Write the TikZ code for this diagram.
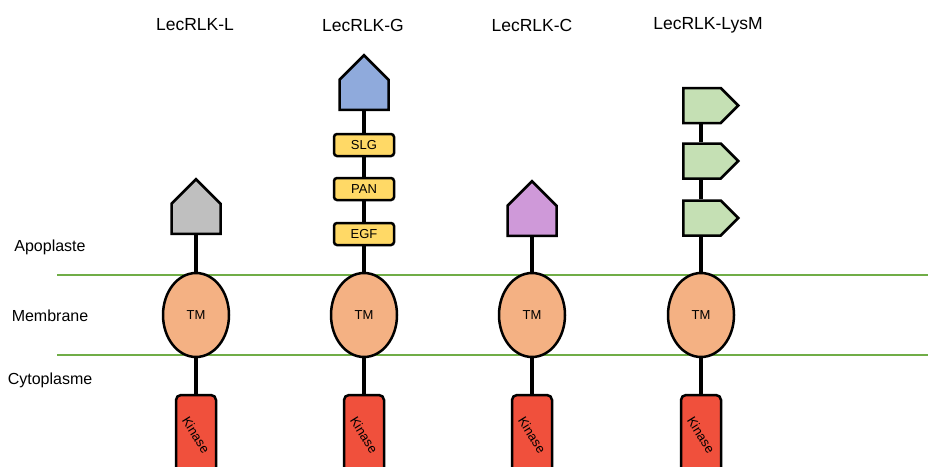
\documentclass[tikz,border=0pt]{standalone}
\usepackage{fontspec}
\setmainfont{Liberation Sans}
\usetikzlibrary{shapes.symbols,shapes.geometric}

\definecolor{lecgrey}{HTML}{BFBFBF}
\definecolor{lecblue}{HTML}{8FAADC}
\definecolor{lecpurple}{HTML}{CF99D9}
\definecolor{lecgreen}{HTML}{C5E0B4}
\definecolor{lecyellow}{HTML}{FFD966}
\definecolor{tmorange}{HTML}{F4B183}
\definecolor{kinred}{HTML}{F0503C}
\definecolor{membcol}{HTML}{70AD47}

\begin{document}
\begin{tikzpicture}[x=1pt, y=-1pt,
        title/.style = {font=\fontsize{17.5}{20}\selectfont},
        zone/.style = {font=\fontsize{16}{19}\selectfont},
        head/.style = {draw, line width=2.5pt, signal, signal to=north, minimum width=49pt, minimum height=30pt, inner sep=0pt, anchor=south},
        flag/.style = {draw, line width=2.5pt, signal, signal to=east, fill=lecgreen, minimum width=55pt, minimum height=35pt, inner sep=0pt, anchor=west},
        lecdomain/.style = {draw, line width=2.5pt, fill=lecyellow, rounded corners=3pt, minimum width=60pt, minimum height=22pt, inner sep=0pt, font=\fontsize{13}{15}\selectfont},
        tm/.style = {draw, line width=2.5pt, ellipse, fill=tmorange, minimum width=66pt, minimum height=84pt, inner sep=0pt, font=\fontsize{13}{15}\selectfont},
        kinase/.style = {draw, line width=2.5pt, fill=kinred, rounded corners=5pt, minimum width=40pt, minimum height=80pt, inner sep=0pt, font=\fontsize{13}{15}\selectfont},
        stem/.style = {line width=3.5pt},
        membrane/.style = {line width=2pt, membcol}]
    \useasboundingbox (0,0) rectangle (928,466);

    % membrane
    \draw[membrane] (57,275) -- (928,275);
    \draw[membrane] (57,355) -- (928,355);

    % zones
    \node[zone] (apo) at (50,247) {Apoplaste};
    \node[zone] (memb) at (50,316) {Membrane};
    \node[zone] (cyto) at (50,380) {Cytoplasme};

    % titles
    \node[title] (tL) at (195,25) {LecRLK-L};
    \node[title] (tG) at (363,25) {LecRLK-G};
    \node[title] (tC) at (532,25) {LecRLK-C};
    \node[title] (tLys) at (708,25) {LecRLK-LysM};

    % LecRLK-L
    \node[head, fill=lecgrey] (hL) at (196,235) {};
    \node[tm] (tmL) at (196,315) {TM};
    \node[kinase] (kL) at (196,435) {\rotatebox{-58}{Kinase}};
    \draw[stem] (hL.south) -- (tmL.north);
    \draw[stem] (tmL.south) -- (kL.north);

    % LecRLK-G
    \node[head, fill=lecblue] (hG) at (364,111) {};
    \node[lecdomain] (slg) at (364,145) {SLG};
    \node[lecdomain] (pan) at (364,189) {PAN};
    \node[lecdomain] (egf) at (364,234) {EGF};
    \node[tm] (tmG) at (364,315) {TM};
    \node[kinase] (kG) at (364,435) {\rotatebox{-58}{Kinase}};
    \draw[stem] (hG.south) -- (slg.north);
    \draw[stem] (slg.south) -- (pan.north);
    \draw[stem] (pan.south) -- (egf.north);
    \draw[stem] (egf.south) -- (tmG.north);
    \draw[stem] (tmG.south) -- (kG.north);

    % LecRLK-C
    \node[head, fill=lecpurple] (hC) at (532,237) {};
    \node[tm] (tmC) at (532,315) {TM};
    \node[kinase] (kC) at (532,435) {\rotatebox{-58}{Kinase}};
    \draw[stem] (hC.south) -- (tmC.north);
    \draw[stem] (tmC.south) -- (kC.north);

    % LecRLK-LysM
    \node[flag] (lys1) at (682,105.5) {};
    \node[flag] (lys2) at (682,161) {};
    \node[flag] (lys3) at (682,218) {};
    \node[tm] (tmLys) at (701,315) {TM};
    \node[kinase] (kLys) at (701,435) {\rotatebox{-58}{Kinase}};
    \draw[stem] (lys1.south -| tmLys.north) -- (lys2.north -| tmLys.north);
    \draw[stem] (lys2.south -| tmLys.north) -- (lys3.north -| tmLys.north);
    \draw[stem] (lys3.south -| tmLys.north) -- (tmLys.north);
    \draw[stem] (tmLys.south) -- (kLys.north);

\end{tikzpicture}
\end{document}
